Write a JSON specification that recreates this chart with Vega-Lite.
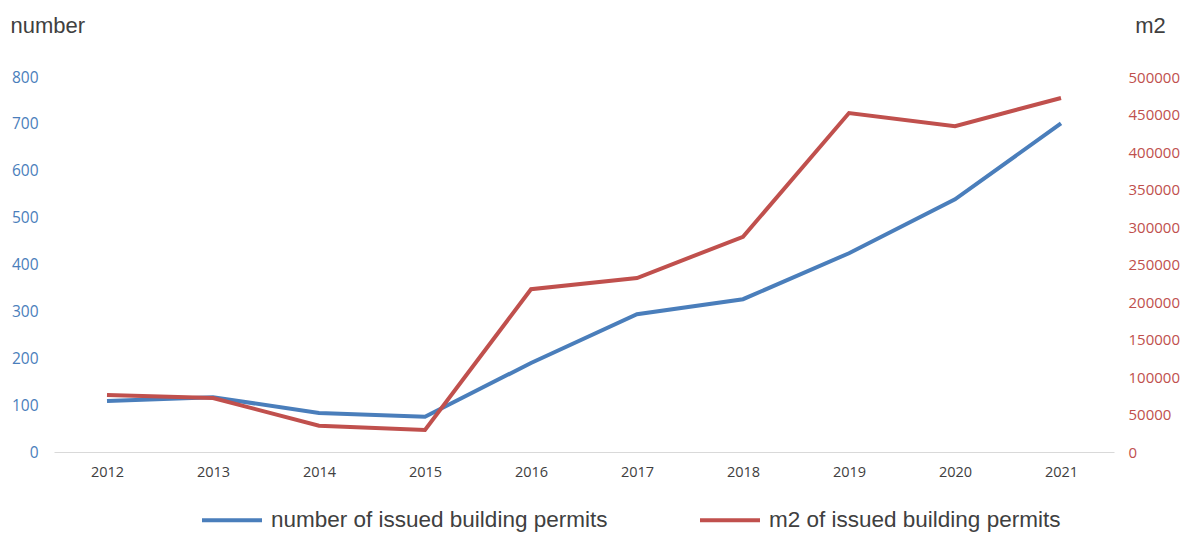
{
  "$schema": "https://vega.github.io/schema/vega-lite/v6.json",
  "width": 1060,
  "height": 375,
  "autosize": {"type": "none"},
  "padding": {"left": 54, "top": 77, "right": 69, "bottom": 82},
  "background": "white",
  "config": {"view": {"stroke": null}, "font": "Liberation Sans"},
  "data": {"values": [
    {"year": "2012", "number": 109, "m2": 76000},
    {"year": "2013", "number": 117, "m2": 72000},
    {"year": "2014", "number": 83, "m2": 35000},
    {"year": "2015", "number": 75, "m2": 29500},
    {"year": "2016", "number": 190, "m2": 217000},
    {"year": "2017", "number": 294, "m2": 232000},
    {"year": "2018", "number": 326, "m2": 287000},
    {"year": "2019", "number": 424, "m2": 452000},
    {"year": "2020", "number": 539, "m2": 434500},
    {"year": "2021", "number": 701, "m2": 472000}
  ]},
  "encoding": {
    "x": {
      "field": "year", "type": "ordinal",
      "scale": {"type": "point", "padding": 0.5},
      "axis": {"labelAngle": 0, "domainColor": "#d9d9d9", "domainWidth": 1, "ticks": false, "labelPadding": 13, "labelFontSize": 14.5, "labelColor": "#404040", "title": null, "labelFont": "Open Sans"}
    }
  },
  "layer": [
    {
      "mark": {"type": "line", "strokeWidth": 4},
      "encoding": {
        "y": {
          "field": "number", "type": "quantitative",
          "scale": {"domain": [0, 800]},
          "axis": {"orient": "left", "values": [0,100,200,300,400,500,600,700,800], "format": "d", "grid": false, "domain": false, "ticks": false, "labelColor": "#4a7ebb", "labelFontSize": 15.5, "labelFont": "Open Sans", "labelPadding": 16, "title": "number", "titleAngle": 0, "titleX": -44, "titleY": -45, "titleAlign": "left", "titleBaseline": "alphabetic", "titleFontSize": 22, "titleFontWeight": "normal", "titleColor": "#404040"}
        },
        "color": {
          "datum": "number of issued building permits",
          "type": "nominal",
          "scale": {"domain": ["number of issued building permits", "m2 of issued building permits"], "range": ["#4a7ebb", "#c0504d"]},
          "legend": {"orient": "none", "legendX": 146, "legendY": 411, "direction": "horizontal", "title": null, "symbolType": "stroke", "symbolSize": 3600, "symbolStrokeWidth": 4, "labelFontSize": 22.5, "labelColor": "#404040", "labelOffset": 7, "columnPadding": 84, "labelLimit": 0}
        }
      }
    },
    {
      "mark": {"type": "line", "strokeWidth": 4},
      "encoding": {
        "y": {
          "field": "m2", "type": "quantitative",
          "scale": {"domain": [0, 500000]},
          "axis": {"orient": "right", "values": [0,50000,100000,150000,200000,250000,300000,350000,400000,450000,500000], "format": "d", "grid": false, "domain": false, "ticks": false, "labelColor": "#c0504d", "labelFontSize": 15, "labelFont": "Open Sans", "labelPadding": 14, "title": "m2", "titleAngle": 0, "titleX": 36, "titleY": -45, "titleAlign": "center", "titleBaseline": "alphabetic", "titleFontSize": 22, "titleFontWeight": "normal", "titleColor": "#404040"}
        },
        "color": {"datum": "m2 of issued building permits", "type": "nominal"}
      }
    }
  ],
  "resolve": {"scale": {"y": "independent"}}
}
